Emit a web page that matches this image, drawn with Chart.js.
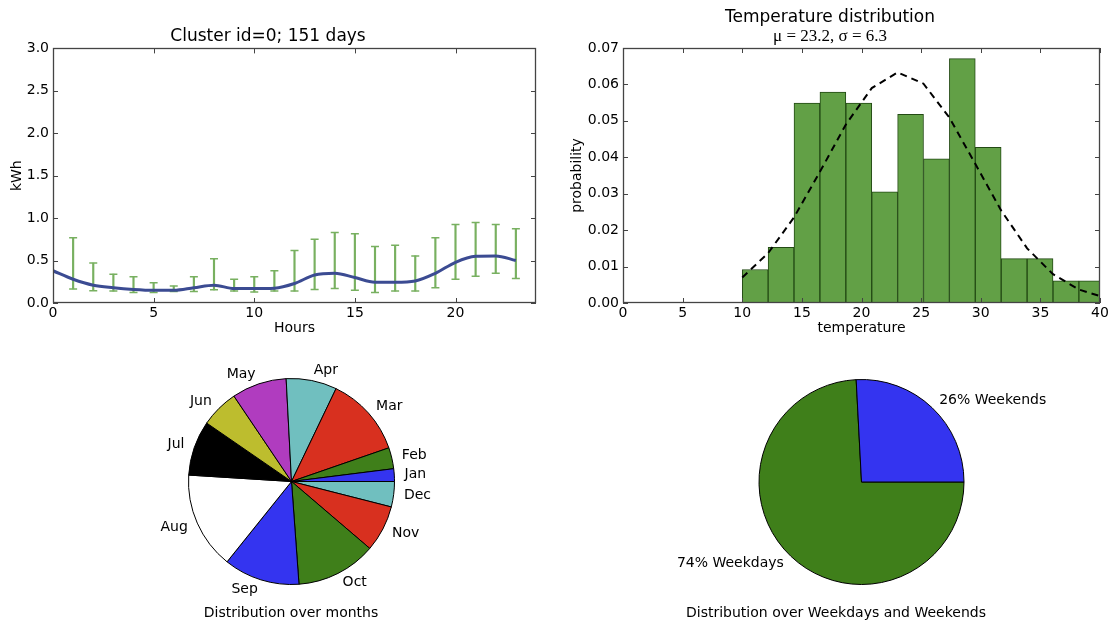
<!DOCTYPE html>
<html>
<head>
<meta charset="utf-8">
<script src="https://cdn.jsdelivr.net/npm/chart.js@4.4.1/dist/chart.umd.min.js"></script>
<style>
  body { margin: 0; background: #fff; width: 1109px; height: 623px; position: relative; overflow: hidden; font-family: "DejaVu Sans", sans-serif; }
  .box { position: absolute; }
  .cap { position: absolute; font-size: 14px; line-height: 16px; color: #000; white-space: nowrap; transform: translateX(-50%); }
</style>
</head>
<body>
<div class="box" style="left:0;top:0;width:560px;height:345px"><canvas id="hours-chart"></canvas></div>
<div class="box" style="left:560px;top:0;width:549px;height:345px"><canvas id="temp-chart"></canvas></div>
<div class="box" style="left:141px;top:331px;width:301px;height:301px"><canvas id="month-pie"></canvas></div>
<div class="box" style="left:641px;top:332px;width:441px;height:300px"><canvas id="week-pie"></canvas></div>
<div class="cap" style="left:291px;top:604px">Distribution over months</div>
<div class="cap" style="left:836px;top:604px">Distribution over Weekdays and Weekends</div>

<script>
// Daily profile (cluster 0)
const hours = [0, 1, 2, 3, 4, 5, 6, 7, 8, 9, 10, 11, 12, 13, 14, 15, 16, 17, 18, 19, 20, 21, 22, 23];
const meanKwh = [0.38, 0.28, 0.21, 0.18, 0.16, 0.15, 0.15, 0.18, 0.21, 0.17, 0.17, 0.175, 0.23, 0.33, 0.35, 0.30, 0.245, 0.245, 0.26, 0.35, 0.48, 0.55, 0.555, 0.50];
const errLow = [null, 0.165, 0.145, 0.14, 0.125, 0.125, 0.135, 0.135, 0.155, 0.14, 0.13, 0.14, 0.14, 0.16, 0.17, 0.15, 0.125, 0.14, 0.14, 0.18, 0.28, 0.315, 0.35, 0.29];
const errHigh = [null, 0.77, 0.47, 0.34, 0.31, 0.24, 0.20, 0.31, 0.52, 0.28, 0.31, 0.38, 0.62, 0.75, 0.83, 0.815, 0.665, 0.68, 0.555, 0.77, 0.925, 0.95, 0.925, 0.875];
const hourTicks = [0, 5, 10, 15, 20];
const kwhTicks = [0, 0.5, 1.0, 1.5, 2.0, 2.5, 3.0];

// Temperature histogram
const binEdges = [10, 12.17, 14.34, 16.51, 18.69, 20.86, 23.03, 25.2, 27.37, 29.54, 31.71, 33.89, 36.06, 38.23, 40.4];
const binProb = [0.0092, 0.0153, 0.0549, 0.0579, 0.0549, 0.0305, 0.0518, 0.0396, 0.0671, 0.0427, 0.0122, 0.0122, 0.0061, 0.0061];
const fitProb = [0.0070, 0.0137, 0.0235, 0.0360, 0.0490, 0.0590, 0.0633, 0.0602, 0.0509, 0.0382, 0.0254, 0.0150, 0.0079, 0.0037, 0.0015];
const tempTicks = [0, 5, 10, 15, 20, 25, 30, 35, 40];
const probTicks = [0, 0.01, 0.02, 0.03, 0.04, 0.05, 0.06, 0.07];

// Pies
const months = ['Jan', 'Feb', 'Mar', 'Apr', 'May', 'Jun', 'Jul', 'Aug', 'Sep', 'Oct', 'Nov', 'Dec'];
const monthDays = [3, 5, 19, 12, 13, 9, 13, 23, 18, 19, 11, 6];
const monthColors = ['#3434f0', '#3f7f1a', '#d8301f', '#70bfbf', '#b03cbf', '#bdbd2e', '#000000', '#ffffff', '#3434f0', '#3f7f1a', '#d8301f', '#70bfbf'];
const dayKinds = ['Weekends', 'Weekdays'];
const dayCounts = [39, 112];
const dayColors = ['#3434f0', '#3f7f1a'];

Chart.defaults.font.family = '"DejaVu Sans", sans-serif';
Chart.defaults.font.size = 14;
Chart.defaults.color = '#000';
Chart.defaults.animation = false;

// matplotlib-like box with inward ticks on all four sides
const frame = {
    id: 'frame',
    afterDraw(chart) {
        const { ctx, chartArea: a, scales } = chart;
        ctx.save();
        ctx.strokeStyle = '#444';
        ctx.lineWidth = 1;
        ctx.beginPath();
        scales.x.ticks.forEach(t => {
            const px = Math.round(scales.x.getPixelForValue(t.value)) + 0.5;
            ctx.moveTo(px, a.bottom); ctx.lineTo(px, a.bottom - 5);
            ctx.moveTo(px, a.top); ctx.lineTo(px, a.top + 5);
        });
        scales.y.ticks.forEach(t => {
            const py = Math.round(scales.y.getPixelForValue(t.value)) + 0.5;
            ctx.moveTo(a.left, py); ctx.lineTo(a.left + 5, py);
            ctx.moveTo(a.right, py); ctx.lineTo(a.right - 5, py);
        });
        ctx.stroke();
        ctx.lineWidth = 1.3;
        ctx.strokeRect(Math.round(a.left) + 0.5, Math.round(a.top) + 0.5, Math.round(a.width) - 1, Math.round(a.height) - 1);
        ctx.restore();
    }
};

// labels just outside each wedge, like matplotlib's pie()
const pieLabels = {
    id: 'pieLabels',
    afterDatasetsDraw(chart, args, opts) {
        const { ctx } = chart;
        const meta = chart.getDatasetMeta(0);
        ctx.save();
        ctx.font = '14px "DejaVu Sans"';
        ctx.fillStyle = '#000';
        ctx.textBaseline = 'middle';
        meta.data.forEach((arc, i) => {
            const { x, y, startAngle, endAngle, outerRadius } = arc.getProps(['x', 'y', 'startAngle', 'endAngle', 'outerRadius'], true);
            const mid = (startAngle + endAngle) / 2;
            const r = outerRadius * 1.1;
            ctx.textAlign = Math.cos(mid) >= 0 ? 'left' : 'right';
            ctx.fillText(opts.text(chart, i), x + r * Math.cos(mid), y + r * Math.sin(mid));
        });
        ctx.restore();
    }
};

function fixedTicks(list) {
    return scale => { scale.ticks = list.map(v => ({ value: v })); };
}

function xAxis(min, max, ticks, title, height) {
    return {
        type: 'linear', min, max, offset: false,
        afterBuildTicks: fixedTicks(ticks),
        afterFit: s => { s.height = height; s.paddingLeft = 0; s.paddingRight = 0; },
        grid: { display: false, drawTicks: false }, border: { display: false },
        ticks: { padding: 2, maxRotation: 0, autoSkip: false, callback: v => String(v) },
        title: { display: true, text: title, padding: { top: 0, bottom: 8 } }
    };
}

function yAxis(min, max, ticks, digits, title, width, titlePad) {
    return {
        min, max,
        afterBuildTicks: fixedTicks(ticks),
        afterFit: s => { s.width = width; },
        grid: { display: false, drawTicks: false }, border: { display: false },
        ticks: { padding: 4, autoSkip: false, callback: v => Number(v).toFixed(digits) },
        title: { display: true, text: title, padding: { top: titlePad, bottom: 0 } }
    };
}

const errColor = '#78b060';
const withErr = hours.filter((h, i) => errLow[i] !== null);

new Chart(document.getElementById('hours-chart'), {
    type: 'bar',
    data: {
        datasets: [
            {
                type: 'line', order: 0,
                data: hours.map((h, i) => ({ x: h, y: meanKwh[i] })),
                borderColor: '#3b4b92', borderWidth: 3, pointRadius: 0,
                cubicInterpolationMode: 'monotone'
            },
            {
                type: 'bar', order: 1,
                data: withErr.map(h => ({ x: h, y: [errLow[h], errHigh[h]] })),
                backgroundColor: errColor, barThickness: 1.5
            },
            {
                type: 'line', order: 1, showLine: false,
                data: withErr.map(h => ({ x: h, y: errLow[h] })),
                pointStyle: 'line', pointRadius: 4, pointBorderWidth: 1.5, pointBorderColor: errColor
            },
            {
                type: 'line', order: 1, showLine: false,
                data: withErr.map(h => ({ x: h, y: errHigh[h] })),
                pointStyle: 'line', pointRadius: 4, pointBorderWidth: 1.5, pointBorderColor: errColor
            }
        ]
    },
    options: {
        responsive: true, maintainAspectRatio: false,
        layout: { padding: { left: 0, right: 24, top: 0, bottom: 0 } },
        plugins: {
            legend: { display: false }, tooltip: { enabled: false },
            title: { display: true, text: 'Cluster id=0; 151 days', color: '#000', font: { size: 17, weight: 'normal' }, padding: { top: 26, bottom: 2 } }
        },
        scales: {
            x: xAxis(0, 24, hourTicks, 'Hours', 42),
            y: yAxis(0, 3, kwhTicks, 1, 'kWh', 53, 9)
        }
    },
    plugins: [frame]
});

const binCenters = binProb.map((p, i) => (binEdges[i] + binEdges[i + 1]) / 2);

new Chart(document.getElementById('temp-chart'), {
    type: 'bar',
    data: {
        datasets: [
            {
                type: 'line', order: 0, clip: 0,
                data: binEdges.map((e, i) => ({ x: e, y: fitProb[i] })),
                borderColor: '#000', borderWidth: 2, borderDash: [7, 5], pointRadius: 0, tension: 0
            },
            {
                type: 'bar', order: 1, clip: 0,
                data: binCenters.map((c, i) => ({ x: c, y: binProb[i] })),
                backgroundColor: '#62a046', borderColor: '#234a14', borderWidth: 1, borderSkipped: false,
                categoryPercentage: 1, barPercentage: 1
            }
        ]
    },
    options: {
        responsive: true, maintainAspectRatio: false,
        layout: { padding: { left: 0, right: 9, top: 0, bottom: 0 } },
        plugins: {
            legend: { display: false }, tooltip: { enabled: false },
            title: { display: true, text: 'Temperature distribution', color: '#000', font: { size: 17, weight: 'normal', lineHeight: 1 }, padding: { top: 9.5, bottom: 0 } },
            subtitle: { display: true, text: 'μ = 23.2, σ = 6.3', color: '#000', font: { family: '"Liberation Serif", serif', size: 17, lineHeight: 1 }, padding: { top: 2, bottom: 2.5 } }
        },
        scales: {
            x: xAxis(0, 40, tempTicks, 'temperature', 42),
            y: yAxis(0, 0.07, probTicks, 2, 'probability', 63, 8.5)
        }
    },
    plugins: [frame]
});

// matplotlib draws wedges counter-clockwise from 3 o'clock; Chart.js goes clockwise,
// so the order is reversed and the start rotated to 90 degrees.
new Chart(document.getElementById('month-pie'), {
    type: 'pie',
    data: {
        labels: months.slice().reverse(),
        datasets: [{
            data: monthDays.slice().reverse(),
            backgroundColor: monthColors.slice().reverse(),
            borderColor: '#000', borderWidth: 1
        }]
    },
    options: {
        responsive: true, maintainAspectRatio: false,
        rotation: 90, radius: 103,
        plugins: {
            legend: { display: false }, tooltip: { enabled: false },
            pieLabels: { text: (chart, i) => chart.data.labels[i] }
        }
    },
    plugins: [pieLabels]
});

const dayTotal = dayCounts.reduce((a, b) => a + b, 0);
new Chart(document.getElementById('week-pie'), {
    type: 'pie',
    data: {
        labels: dayKinds.slice().reverse(),
        datasets: [{
            data: dayCounts.slice().reverse(),
            backgroundColor: dayColors.slice().reverse(),
            borderColor: '#000', borderWidth: 1
        }]
    },
    options: {
        responsive: true, maintainAspectRatio: false,
        rotation: 90, radius: 102.5,
        plugins: {
            legend: { display: false }, tooltip: { enabled: false },
            pieLabels: {
                text: (chart, i) => {
                    const v = chart.data.datasets[0].data[i];
                    return Math.round(v / dayTotal * 100) + '% ' + chart.data.labels[i];
                }
            }
        }
    },
    plugins: [pieLabels]
});
</script>
</body>
</html>
